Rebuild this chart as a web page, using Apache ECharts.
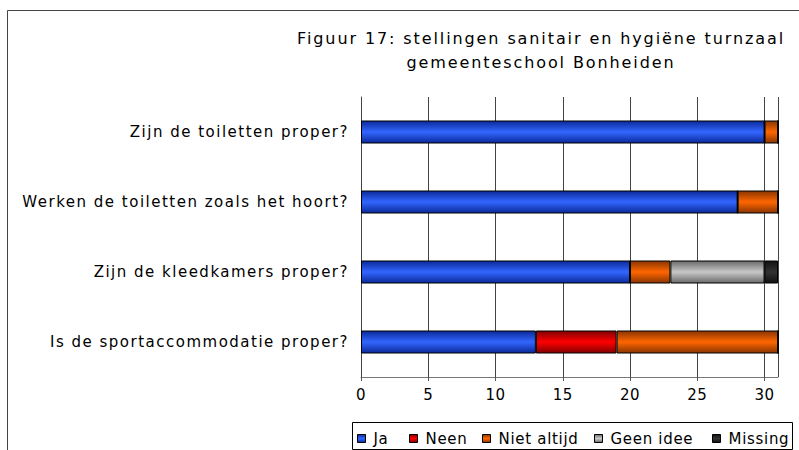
<!DOCTYPE html>
<html>
<head>
<meta charset="utf-8">
<script src="https://cdn.jsdelivr.net/npm/echarts@6/dist/echarts.min.js"></script>
<style>
  html, body { margin: 0; padding: 0; background: #fff; }
  #chart { width: 799px; height: 450px; }
</style>
</head>
<body>
<div id="chart"></div>
<script>
const categories = [
  'Zijn de toiletten proper?',
  'Werken de toiletten zoals het hoort?',
  'Zijn de kleedkamers proper?',
  'Is de sportaccommodatie proper?'
];
const ja = [30, 28, 20, 13];
const neen = [0, 0, 0, 6];
const nietAltijd = [1, 3, 3, 12];
const geenIdee = [0, 0, 7, 0];
const missing = [0, 0, 1, 0];
const xTicks = [0, 5, 10, 15, 20, 25, 30];
const legendNames = ['Ja', 'Neen', 'Niet altijd', 'Geen idee', 'Missing'];

const font = 'DejaVu Sans';
const legendLeft = [357, 409, 482, 594, 712];

// bar look: darker edges, bright middle
function tube(c, dark) {
  return new echarts.graphic.LinearGradient(0, 0, 0, 1, [
    {offset: 0, color: dark},
    {offset: 0.5, color: c},
    {offset: 1, color: dark}
  ]);
}

function serie(name, data, c, dark) {
  return {
    name: name,
    type: 'bar',
    stack: 'total',
    data: data,
    barWidth: 23,
    itemStyle: {
      color: tube(c, dark),
      borderColor: '#000',
      borderWidth: 1
    },
    emphasis: {disabled: true}
  };
}

const chart = echarts.init(document.getElementById('chart'), null, {renderer: 'svg'});
chart.setOption({
  animation: false,
  color: ['#2f5ff5', '#ee0000', '#ff6600', '#b8b8b8', '#2a2a2a'],
  textStyle: {fontFamily: font},
  title: {
    text: 'Figuur 17: stellingen sanitair en hygiëne turnzaal\ngemeenteschool Bonheiden',
    left: 536,
    top: 21,
    textAlign: 'center',
    textStyle: {
      fontFamily: font,
      fontWeight: 'normal',
      fontSize: 16,
      lineHeight: 24,
      color: '#000'
    }
  },
  graphic: [{
    type: 'rect',
    shape: {x: 7.5, y: 10.5, width: 900, height: 500},
    style: {fill: 'none', stroke: '#444', lineWidth: 1},
    silent: true
  }, {
    type: 'rect',
    shape: {x: 352.5, y: 422.5, width: 440, height: 27},
    style: {fill: 'none', stroke: '#000', lineWidth: 1},
    silent: true
  }],
  legend: legendNames.map((n, i) => ({
    left: legendLeft[i],
    top: 431,
    padding: 0,
    itemWidth: 8,
    itemHeight: 8,
    icon: 'rect',
    selectedMode: false,
    data: [n],
    itemStyle: {borderColor: '#000', borderWidth: 1},
    textStyle: {fontFamily: font, fontSize: 15, color: '#000', padding: [0, 0, 0, 3]}
  })),
  grid: {left: 361, right: 21, top: 97, bottom: 73, containLabel: false},
  xAxis: {
    type: 'value',
    min: 0,
    max: 31,
    interval: 5,
    axisLine: {show: true, lineStyle: {color: '#777', width: 1}},
    axisTick: {show: true, length: 4, lineStyle: {color: '#555'}},
    axisLabel: {
      color: '#000',
      fontSize: 15,
      margin: 10,
      fontFamily: font,
      showMaxLabel: false,
      formatter: v => xTicks.includes(v) ? String(v) : ''
    },
    splitLine: {show: true, lineStyle: {color: '#444', width: 1}}
  },
  yAxis: {
    type: 'category',
    inverse: true,
    data: categories,
    axisLine: {show: true, lineStyle: {color: '#444'}},
    axisTick: {show: false},
    axisLabel: {color: '#000', fontSize: 15, margin: 12, fontFamily: font}
  },
  series: [
    serie('Ja', ja, '#3366ff', '#0a2a9a'),
    serie('Neen', neen, '#ff0000', '#800000'),
    serie('Niet altijd', nietAltijd, '#ff6600', '#8a3500'),
    serie('Geen idee', geenIdee, '#c8c8c8', '#6a6a6a'),
    serie('Missing', missing, '#333333', '#111111')
  ]
});

// the original text is set wide: add letter spacing to the svg text
function spaceText() {
  document.querySelectorAll('#chart svg text').forEach(t => {
    const s = t.textContent;
    let ls = 1.5;
    if (s.startsWith('Figuur') || s.startsWith('gemeente')) ls = 1.9;
    else if (legendNames.includes(s)) ls = 0.7;
    else if (/^\d+$/.test(s)) ls = 0.5;
    t.style.letterSpacing = ls + 'px';
  });
}
spaceText();
chart.on('finished', spaceText);
</script>
</body>
</html>
